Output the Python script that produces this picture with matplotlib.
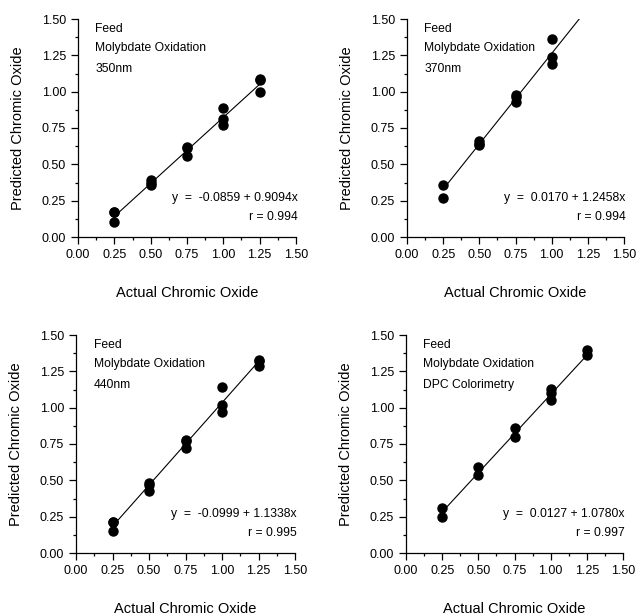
import numpy as np
import matplotlib
matplotlib.use('Agg')
import matplotlib.pyplot as plt
from matplotlib.ticker import MultipleLocator, FormatStrFormatter

plt.rcParams['font.family'] = ['Liberation Sans', 'DejaVu Sans']

# ---------------- data ----------------
x_350 = [0.25, 0.25, 0.25, 0.50, 0.50, 0.50, 0.75, 0.75, 0.75, 1.00, 1.00, 1.00, 1.25, 1.25, 1.25]
y_350 = [0.17, 0.17, 0.10, 0.39, 0.37, 0.36, 0.62, 0.61, 0.56, 0.89, 0.81, 0.77, 1.09, 1.08, 1.00]

x_370 = [0.25, 0.25, 0.50, 0.50, 0.50, 0.75, 0.75, 0.75, 1.00, 1.00, 1.00]
y_370 = [0.36, 0.27, 0.66, 0.64, 0.63, 0.98, 0.96, 0.93, 1.36, 1.24, 1.19]

x_440 = [0.25, 0.25, 0.25, 0.50, 0.50, 0.50, 0.75, 0.75, 0.75, 1.00, 1.00, 1.00, 1.25, 1.25, 1.25]
y_440 = [0.21, 0.21, 0.15, 0.48, 0.47, 0.43, 0.78, 0.77, 0.72, 1.14, 1.02, 0.97, 1.33, 1.32, 1.29]

x_dpc = [0.25, 0.25, 0.50, 0.50, 0.75, 0.75, 1.00, 1.00, 1.00, 1.25, 1.25]
y_dpc = [0.31, 0.25, 0.59, 0.54, 0.86, 0.80, 1.13, 1.10, 1.05, 1.40, 1.36]

labels = ['350nm', '370nm', '440nm', 'DPC Colorimetry']
intercepts = [-0.0859, 0.0170, -0.0999, 0.0127]
slopes = [0.9094, 1.2458, 1.1338, 1.0780]
r_vals = [0.994, 0.994, 0.995, 0.997]
eq_text = ['y  =  -0.0859 + 0.9094x', 'y  =  0.0170 + 1.2458x',
           'y  =  -0.0999 + 1.1338x', 'y  =  0.0127 + 1.0780x']

xs = [x_350, x_370, x_440, x_dpc]
ys = [y_350, y_370, y_440, y_dpc]

# axes rectangles in pixels (left, top, width, height)
W, H = 638, 615
boxes = [(78, 19, 218, 218), (407, 19, 217, 218),
         (76, 335, 219, 218), (406, 335, 217, 218)]

fig = plt.figure(figsize=(W / 100, H / 100), dpi=100)

for i in range(4):
    l, t, w, h = boxes[i]
    ax = fig.add_axes([l / W, 1 - (t + h) / H, w / W, h / H])
    ax.set_xlim(0, 1.5)
    ax.set_ylim(0, 1.5)
    ax.spines['top'].set_visible(False)
    ax.spines['right'].set_visible(False)
    for s in ['left', 'bottom']:
        ax.spines[s].set_linewidth(0.9)

    # fitted line, clipped by the axes
    xx = np.array([0.25, 1.25])
    ax.plot(xx, intercepts[i] + slopes[i] * xx, color='black', lw=0.8)
    ax.plot(xs[i], ys[i], 'o', color='black', ms=6.5, mec='black')

    ax.xaxis.set_major_locator(MultipleLocator(0.25))
    ax.xaxis.set_minor_locator(MultipleLocator(0.125))
    ax.yaxis.set_major_locator(MultipleLocator(0.25))
    ax.yaxis.set_minor_locator(MultipleLocator(0.125))
    ax.tick_params(axis='both', which='major', direction='out', length=5, width=0.9,
                   labelsize=9, pad=3.5)
    ax.tick_params(axis='both', which='minor', direction='out', length=2.5, width=0.9)
    ax.xaxis.set_major_formatter(FormatStrFormatter('%.2f'))
    ax.yaxis.set_major_formatter(FormatStrFormatter('%.2f'))

    ax.set_xlabel('Actual Chromic Oxide', fontsize=10.5)
    ax.set_ylabel('Predicted Chromic Oxide', fontsize=10.5)
    ax.xaxis.set_label_coords(0.5, -56 / h)
    ax.xaxis.label.set_va('center')
    ax.yaxis.set_label_coords(-60 / w, 0.5)
    ax.yaxis.label.set_va('center')

    ax.text(0.12, 1.43, 'Feed', fontsize=8.7, va='center')
    ax.text(0.12, 1.30, 'Molybdate Oxidation', fontsize=8.7, va='center')
    ax.text(0.12, 1.155, labels[i], fontsize=8.7, va='center')
    ax.text(1.51, 0.27, eq_text[i], fontsize=8.7, ha='right', va='center')
    ax.text(1.51, 0.14, 'r = %.3f' % r_vals[i], fontsize=8.7, ha='right', va='center')

fig.savefig('out.png', dpi=100)
